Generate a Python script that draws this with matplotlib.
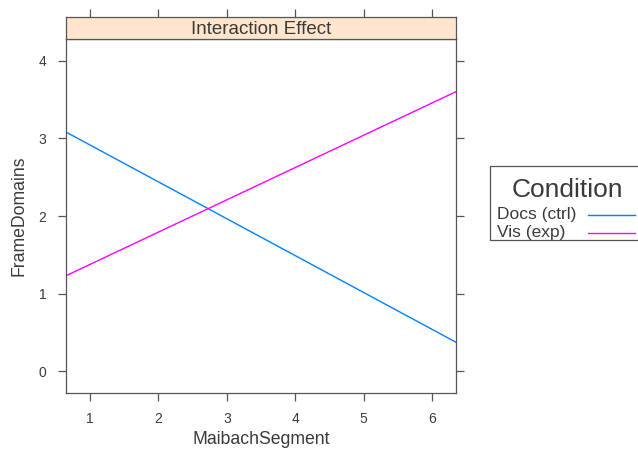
import matplotlib
matplotlib.use("Agg")
import matplotlib.pyplot as plt
from matplotlib.patches import Rectangle
from matplotlib.lines import Line2D

plt.rcParams['font.family'] = ['Liberation Sans', 'DejaVu Sans']

# fitted lines (intercept at x=0, slope)
conditions = ["Docs (ctrl)", "Vis (exp)"]
intercepts = [3.39, 0.96]
slopes = [-0.475, 0.416]
colors = ["#0080ff", "#ff00ff"]

x_ticks = [1, 2, 3, 4, 5, 6]
y_ticks = [0, 1, 2, 3, 4]
xlim = (0.65, 6.35)
ylim = (-0.28, 4.28)

W, H = 638, 449
fig = plt.figure(figsize=(W / 100, H / 100), dpi=100)

frame_col = "#555555"
text_col = "#3a3a3a"

def fx(px):
    return px / W

def fy(py):
    return 1 - py / H

ax = fig.add_axes([fx(66), fy(393), fx(456) - fx(66), fy(39) - fy(393)])
strip = fig.add_axes([fx(66), fy(39), fx(456) - fx(66), fy(17) - fy(39)], sharex=ax)

for i, name in enumerate(conditions):
    ax.axline((0, intercepts[i]), slope=slopes[i], color=colors[i], lw=1.0)

ax.set_xlim(*xlim)
ax.set_ylim(*ylim)
ax.set_xticks(x_ticks)
ax.set_yticks(y_ticks)
ax.tick_params(direction='out', length=6, width=0.9, color=frame_col,
               labelcolor=text_col, labelsize=10, pad=8,
               right=True, top=False)
for s in ax.spines.values():
    s.set_color(frame_col)
    s.set_linewidth(0.9)
ax.set_xlabel("MaibachSegment", fontsize=12.7, color=text_col, labelpad=3)
ax.set_ylabel("FrameDomains", fontsize=12.7, color=text_col, labelpad=8)

strip.set_facecolor("#ffe5cc")
strip.set_yticks([])
strip.tick_params(axis='x', direction='out', length=6, width=0.9, color=frame_col,
                  top=True, bottom=False, labeltop=False, labelbottom=False)
for s in strip.spines.values():
    s.set_color(frame_col)
    s.set_linewidth(0.9)
strip.text(0.5, 0.45, "Interaction Effect", transform=strip.transAxes,
           ha='center', va='center', fontsize=13.5, color=text_col)

# legend box
fig.patches.append(Rectangle((fx(490), fy(240)), fx(650) - fx(490), fy(166) - fy(240),
                             transform=fig.transFigure, fill=False,
                             edgecolor=frame_col, lw=0.9))
fig.text(fx(567), fy(190), "Condition", ha='center', va='center',
         fontsize=19, color=text_col)
for i, name in enumerate(conditions):
    yy = fy(215 + 18 * i)
    fig.text(fx(497), yy, name, ha='left', va='center', fontsize=12.5, color=text_col)
    fig.lines.append(Line2D([fx(588), fx(635)], [yy, yy], transform=fig.transFigure,
                            color=colors[i], lw=1.0))

fig.savefig("out.png", dpi=100)
